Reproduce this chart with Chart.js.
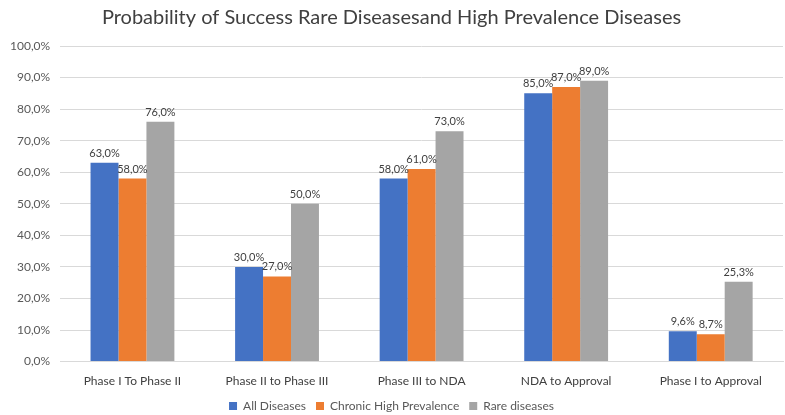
<!DOCTYPE html>
<html>
<head>
<meta charset="utf-8">
<script src="https://cdn.jsdelivr.net/npm/chart.js@4.4.0/dist/chart.umd.min.js"></script>
<style>
  body { margin: 0; background: #fff; }
  #wrap { width: 785px; height: 415px; }
</style>
</head>
<body>
<div id="wrap"><canvas id="chart"></canvas></div>
<script>
const categories = ['Phase I To Phase II', 'Phase II to Phase III', 'Phase III to NDA', 'NDA to Approval', 'Phase I to Approval'];
const allDiseases = [63.0, 30.0, 58.0, 85.0, 9.6];
const chronicHigh = [58.0, 27.0, 61.0, 87.0, 8.7];
const rareDiseases = [76.0, 50.0, 73.0, 89.0, 25.3];

const fmt = v => v.toFixed(1).replace('.', ',') + '%';

// labels on top of each bar
const barLabels = {
  id: 'barLabels',
  afterDatasetsDraw(chart) {
    const ctx = chart.ctx;
    ctx.save();
    ctx.font = '11px Lato, "Open Sans", sans-serif';
    ctx.fillStyle = '#404040';
    ctx.textAlign = 'center';
    ctx.textBaseline = 'bottom';
    chart.data.datasets.forEach((ds, i) => {
      chart.getDatasetMeta(i).data.forEach((bar, j) => {
        ctx.fillText(fmt(ds.data[j]), bar.x, bar.y - 4);
      });
    });
    ctx.restore();
  }
};

const ctx = document.getElementById('chart').getContext('2d');
new Chart(ctx, {
  type: 'bar',
  data: {
    labels: categories,
    datasets: [
      { label: 'All Diseases', data: allDiseases, backgroundColor: '#4472C4' },
      { label: 'Chronic High Prevalence', data: chronicHigh, backgroundColor: '#ED7D31' },
      { label: 'Rare diseases', data: rareDiseases, backgroundColor: '#A5A5A5' }
    ]
  },
  options: {
    responsive: true,
    maintainAspectRatio: false,
    animation: false,
    datasets: { bar: { categoryPercentage: 0.58, barPercentage: 1 } },
    layout: { padding: { left: 0, right: 2, top: 4, bottom: -7 } },
    plugins: {
      title: {
        display: true,
        text: 'Probability of Success Rare Diseasesand High Prevalence Diseases',
        color: '#404040',
        font: { family: 'Lato, "Open Sans", sans-serif', size: 20, weight: 'normal' },
        padding: { top: 2, bottom: 16 }
      },
      legend: {
        position: 'bottom',
        labels: {
          boxWidth: 8, boxHeight: 8,
          color: '#595959',
          font: { family: 'Lato, "Open Sans", sans-serif', size: 12 },
          padding: 10
        }
      },
      tooltip: { enabled: false }
    },
    scales: {
      x: {
        grid: { display: false, tickLength: 10 },
        border: { color: '#d9d9d9' },
        ticks: { color: '#404040', font: { family: 'Lato, "Open Sans", sans-serif', size: 12 }, padding: 2 }
      },
      y: {
        min: 0, max: 100,
        ticks: {
          stepSize: 10,
          color: '#595959',
          font: { family: 'Lato, "Open Sans", sans-serif', size: 12 },
          padding: 10,
          callback: v => fmt(v)
        },
        grid: { color: '#d9d9d9', drawTicks: false },
        border: { display: false }
      }
    }
  },
  plugins: [barLabels]
});
</script>
</body>
</html>
